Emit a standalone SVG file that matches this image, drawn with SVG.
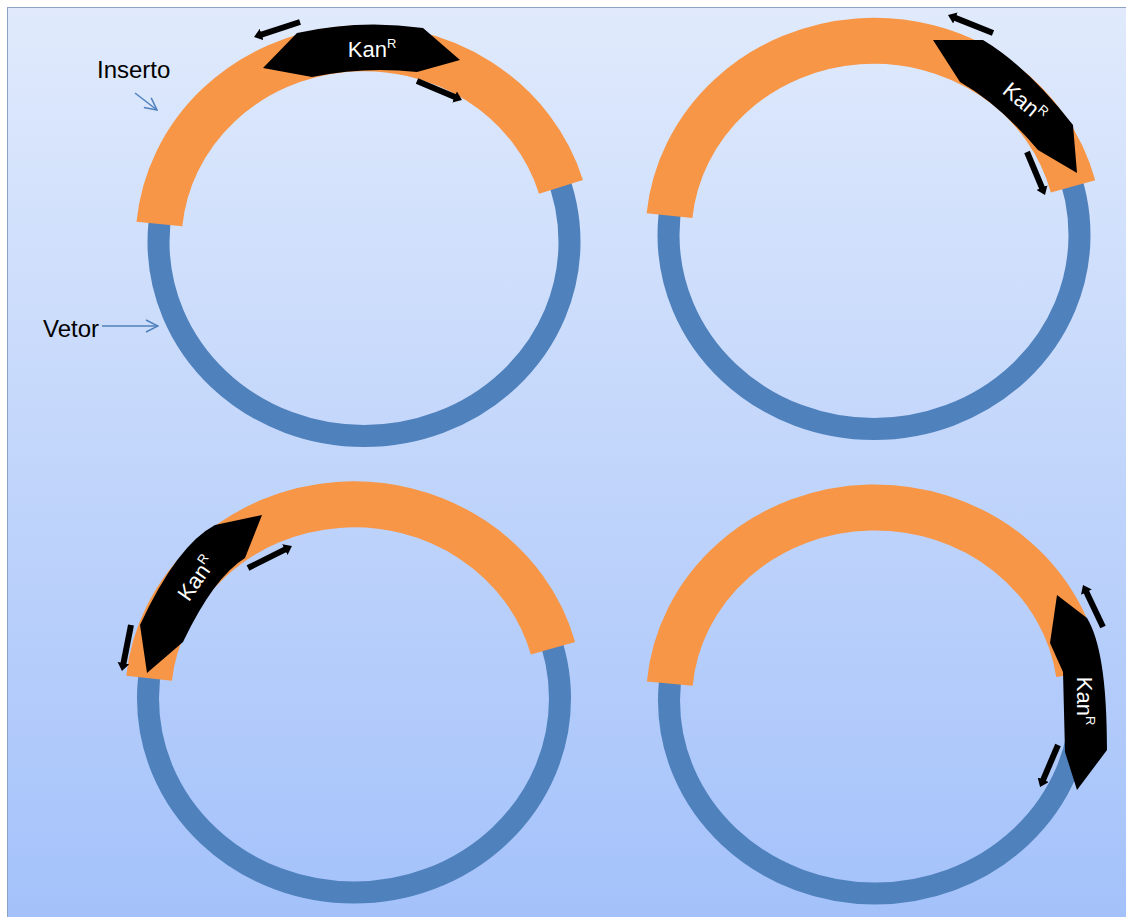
<svg xmlns="http://www.w3.org/2000/svg" width="1126" height="917" viewBox="0 0 1126 917">
  <defs>
    <linearGradient id="bg" x1="0" y1="0" x2="0" y2="1">
      <stop offset="0" stop-color="#e0eafc"/>
      <stop offset="1" stop-color="#a3c1fa"/>
    </linearGradient>
    <marker id="blk" viewBox="0 0 8 12" markerWidth="1.35" markerHeight="2" refX="1" refY="6" orient="auto">
      <path d="M0,0 L8,6 L0,12 z" fill="#000"/>
    </marker>
    <marker id="open" viewBox="0 0 14 14" markerWidth="14" markerHeight="14" markerUnits="userSpaceOnUse" refX="13" refY="7" orient="auto">
      <path d="M1,1 L13,7 L1,13" fill="none" stroke="#4f81bd" stroke-width="1.5"/>
    </marker>
    <style>
      .vec { fill: none; stroke: #4f81bd; stroke-width: 22; }
      .ins { fill: none; stroke: #f79646; stroke-width: 46; stroke-linecap: butt; }
      .kan { fill: #000; }
      .kt { fill: #fff; font-family: "Liberation Sans", Arial, sans-serif; font-size: 22px; }
      .sup { font-size: 13px; }
      .lbl { fill: #000; font-family: "Liberation Sans", Arial, sans-serif; font-size: 24px; }
      .pr { stroke: #000; stroke-width: 6; fill: none; marker-end: url(#blk); }
      .la { stroke: #4f81bd; stroke-width: 1.5; fill: none; marker-end: url(#open); }
    </style>
  </defs>

  <rect x="0" y="0" width="1126" height="917" fill="#ffffff"/>
  <rect x="7.5" y="7.5" width="1130" height="920" fill="url(#bg)" stroke="#8ea3c4" stroke-width="1"/>

  <g id="plasmid-1">
    <ellipse class="vec" cx="364" cy="242" rx="205.5" ry="194"/>
    <path class="ins" d="M159.4 224.1 A205.5 194 0 0 1 561 186.9"/>
    <path class="kan" d="M263 68 L297 33 Q360 19 423 28 L460 60 L417 72 Q365 66 312 77 Z"/>
    <text class="kt" x="372" y="57" text-anchor="middle">Kan<tspan class="sup" dy="-9">R</tspan></text>
  </g>

  <g id="plasmid-2">
    <ellipse class="vec" cx="874" cy="235" rx="205.5" ry="194"/>
    <path class="ins" d="M669.5 215.7 A205.5 194 0 0 1 1073 186.4"/>
    <path class="kan" d="M933 40 L983 40 Q1028 67 1073 125 L1077 173 L1038 150 Q999 104 960 82 Z"/>
    <text class="kt" transform="translate(1025 102) rotate(40)" x="0" y="8" text-anchor="middle">Kan<tspan class="sup" dy="-9">R</tspan></text>
  </g>

  <g id="plasmid-3">
    <ellipse class="vec" cx="354" cy="698.5" rx="206" ry="194"/>
    <path class="ins" d="M149.1 678.2 A206 194 0 0 1 553 648.3"/>
    <path class="kan" d="M215 525 L262 515 L245 558 Q214 577 183 642 L147 673 L140 625 Q177 545 215 525 Z"/>
    <text class="kt" transform="translate(196 578) rotate(-55)" x="0" y="8" text-anchor="middle">Kan<tspan class="sup" dy="-9">R</tspan></text>
  </g>

  <g id="plasmid-4">
    <ellipse class="vec" cx="875" cy="700.5" rx="206" ry="193"/>
    <path class="ins" d="M669.8 683.7 A206 193 0 0 1 1079 673.6"/>
    <path class="kan" d="M1057 595 L1087 618 C1100 640 1107 680 1107 750 L1077 790 L1065 752 L1063 672 L1050 643 Z"/>
    <text class="kt" transform="translate(1085 701) rotate(90)" x="0" y="8" text-anchor="middle">Kan<tspan class="sup" dy="-9">R</tspan></text>
  </g>

  <g id="label-inserto">
    <text class="lbl" x="97" y="78">Inserto</text>
  </g>
  <g id="label-vetor">
    <text class="lbl" x="43" y="337">Vetor</text>
  </g>

  <g id="connectors">
    <line class="la" x1="135" y1="93" x2="157" y2="110"/>
    <line class="la" x1="102" y1="326" x2="158" y2="326"/>
    <line class="pr" x1="300" y1="22" x2="260.7" y2="34.8"/>
    <line class="pr" x1="417" y1="81" x2="455.5" y2="97.3"/>
    <line class="pr" x1="993" y1="33" x2="954.5" y2="17.6"/>
    <line class="pr" x1="1027" y1="152" x2="1042.3" y2="188.5"/>
    <line class="pr" x1="248" y1="568" x2="285.7" y2="549.1"/>
    <line class="pr" x1="131" y1="625" x2="123.3" y2="664.1"/>
    <line class="pr" x1="1103" y1="627" x2="1086" y2="591.3"/>
    <line class="pr" x1="1058" y1="745" x2="1042.8" y2="780.6"/>
  </g>
</svg>
